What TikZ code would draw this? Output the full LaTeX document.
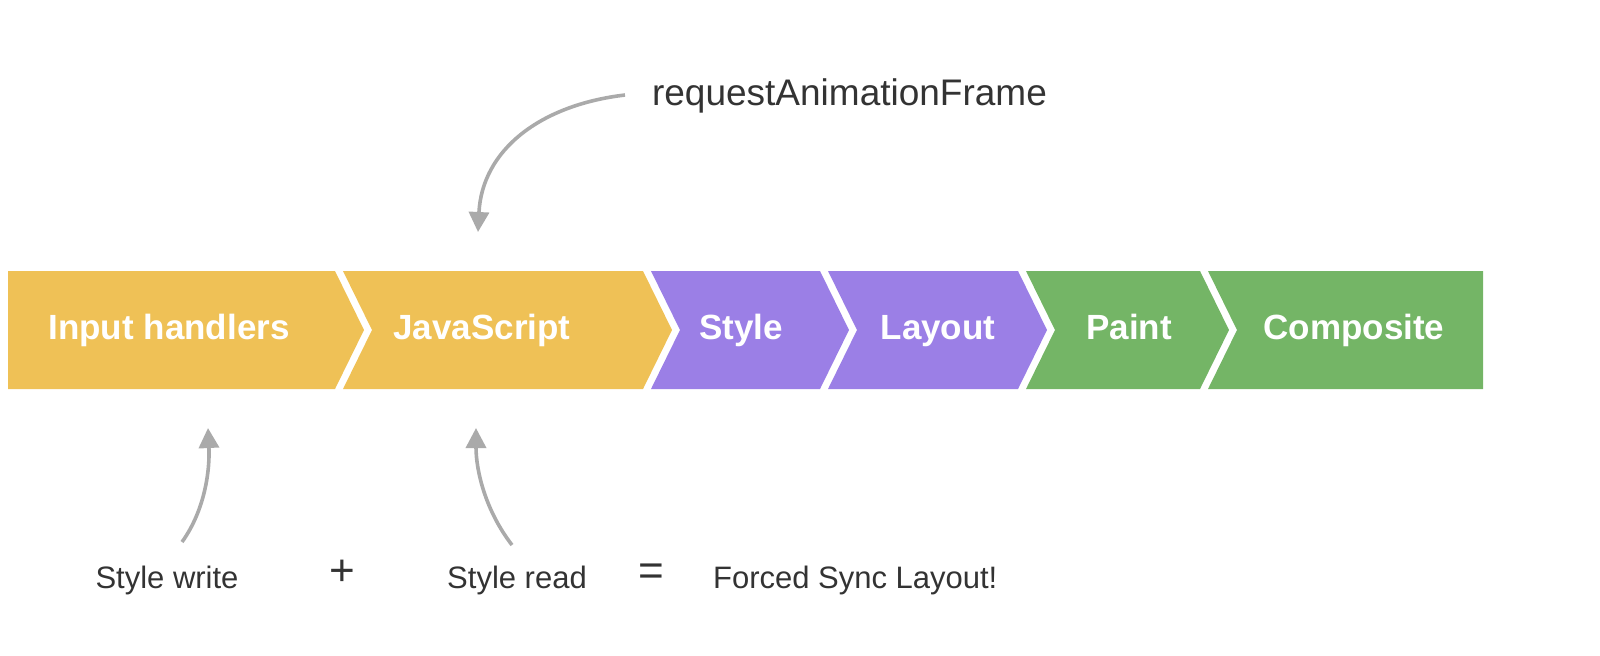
\documentclass[tikz,border=0pt]{standalone}
\usepackage{fontspec}
\setmainfont{Liberation Sans}
\usetikzlibrary{arrows.meta}
\definecolor{cy}{HTML}{EFC156}
\definecolor{cp}{HTML}{9B7FE6}
\definecolor{cg}{HTML}{74B566}
\definecolor{ca}{HTML}{AAAAAA}
\definecolor{ct}{HTML}{333333}
\begin{document}
\begin{tikzpicture}[x=0.5pt,y=-0.5pt,
  stage/.style={text=white,font=\bfseries\fontsize{17.5}{20}\selectfont,text height=12.6pt,text depth=3.6pt},
  lab/.style={text=ct,font=\fontsize{15.5}{18}\selectfont,text height=11pt,text depth=3pt},
  arr/.style={draw=ca,line width=1.8pt,-{Triangle[length=10pt,width=10pt]}}]
\useasboundingbox (0,0) rectangle (1600,655);
\def\ya{271}\def\yb{389}\def\ym{330}
% chevrons
\fill[cy] (8,\ya) -- (335,\ya) -- (364,\ym) -- (335,\yb) -- (8,\yb) -- cycle;
\fill[cy] (343,\ya) -- (643,\ya) -- (672,\ym) -- (643,\yb) -- (343,\yb) -- (372,\ym) -- cycle;
\fill[cp] (651,\ya) -- (820,\ya) -- (849,\ym) -- (820,\yb) -- (651,\yb) -- (680,\ym) -- cycle;
\fill[cp] (828,\ya) -- (1018,\ya) -- (1047,\ym) -- (1018,\yb) -- (828,\yb) -- (857,\ym) -- cycle;
\fill[cg] (1026,\ya) -- (1200,\ya) -- (1229,\ym) -- (1200,\yb) -- (1026,\yb) -- (1055,\ym) -- cycle;
\fill[cg] (1208,\ya) -- (1483,\ya) -- (1483,\yb) -- (1208,\yb) -- (1237,\ym) -- cycle;
\node[stage] (ih) at (169,\ym) {Input handlers};
\node[stage] (js) at (482,\ym) {JavaScript};
\node[stage] (st) at (741,\ym) {Style};
\node[stage] (la) at (938,\ym) {Layout};
\node[stage] (pa) at (1129,\ym) {Paint};
\node[stage] (co) at (1354,\ym) {Composite};
% labels
\node[text=ct,anchor=west,font=\fontsize{18.5}{22}\selectfont,text height=13.5pt,text depth=4pt] (raf) at (645,96) {requestAnimationFrame};
\node[lab] (sw) at (167,580) {Style write};
\node[lab,font=\fontsize{22}{24}\selectfont] (plus) at (342,577) {+};
\node[lab] (sr) at (517,580) {Style read};
\node[lab,font=\fontsize{22}{24}\selectfont] (eq) at (651,577) {=};
\node[lab,anchor=west] (fs) at (706,580) {Forced Sync Layout!};
% arrows
\coordinate (t1) at (478,232);
\coordinate (t2) at (208,428);
\coordinate (t3) at (476,428);
\draw[arr] (625,95) .. controls (540,105) and (482,150) .. (t1);
\draw[arr] (182,542) .. controls (205,510) and (210,470) .. (t2);
\draw[arr] (512,545) .. controls (485,510) and (476,470) .. (t3);
\end{tikzpicture}
\end{document}
